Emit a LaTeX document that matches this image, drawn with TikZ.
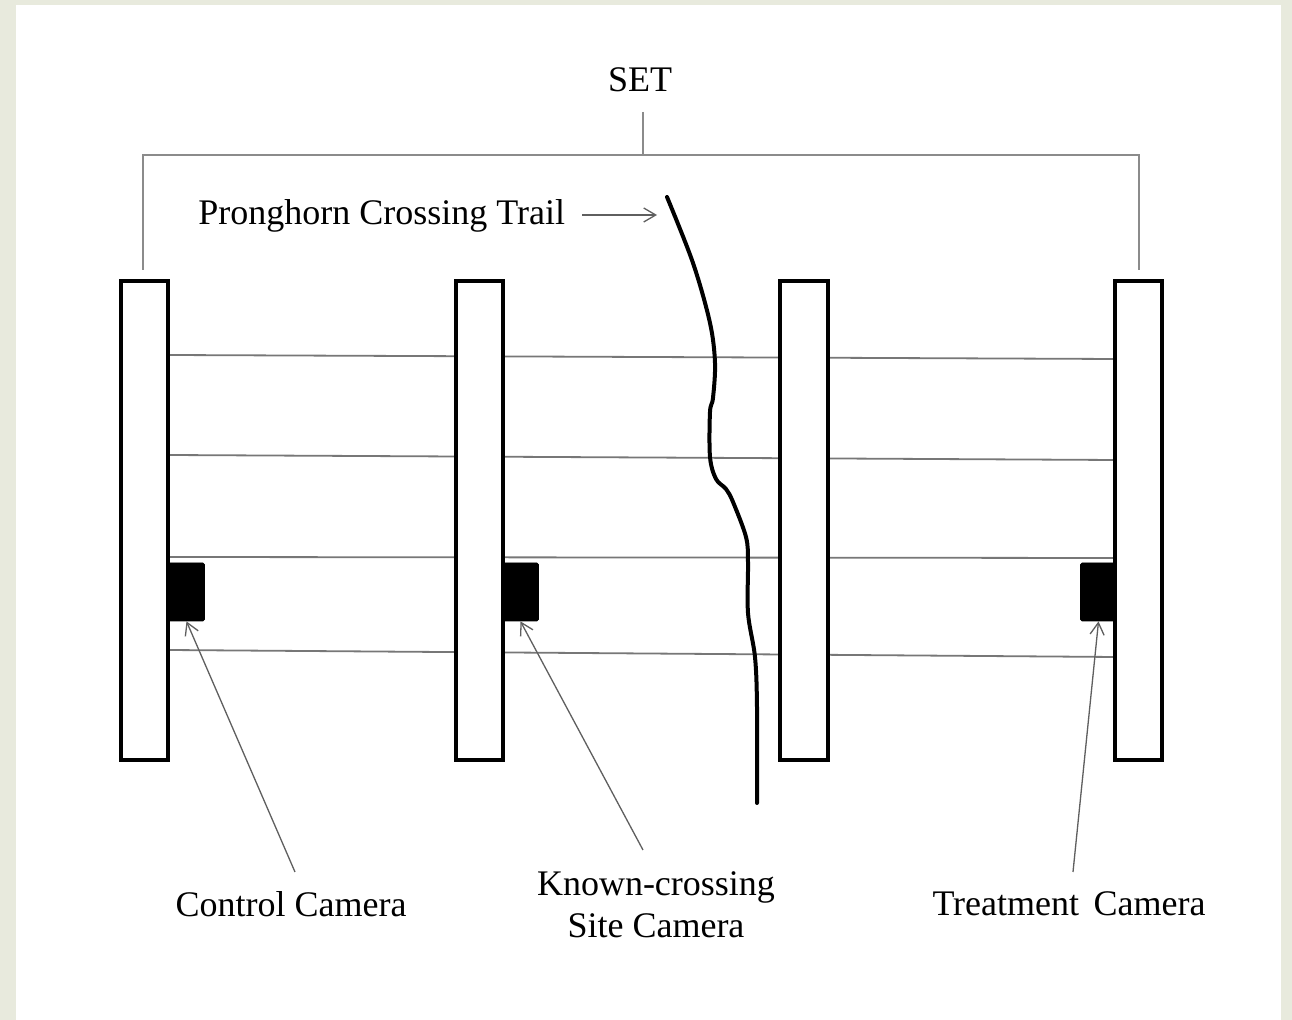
\documentclass[tikz,border=0pt]{standalone}
\usepackage{fontspec}
\setmainfont{Liberation Serif}
\usetikzlibrary{arrows.meta}
\definecolor{frame}{HTML}{E8EADD}
\definecolor{wire}{HTML}{777777}
\begin{document}
\begin{tikzpicture}[x=0.5pt,y=-0.5pt,
  lbl/.style={font=\fontsize{18}{21}\selectfont, inner sep=0pt, align=center},
  postbox/.style={draw=black, line width=1.6pt, fill=white},
  wireline/.style={draw=wire, line width=0.9pt},
  brack/.style={draw=wire!85, line width=0.9pt},
  cam/.style={fill=black, draw=black, rounded corners=0.8pt, minimum width=18pt, minimum height=29pt, inner sep=0pt},
  pointer/.style={draw=wire!80!black, line width=0.65pt, -{Straight Barb[length=6pt,width=7pt]}},
  trail/.style={draw=black, line width=2pt, line cap=round, line join=round}]
% background and margins
\fill[frame] (0,0) rectangle (1292,1020);
\fill[white] (16,5) rectangle (1281,1020);
\useasboundingbox (0,0) rectangle (1292,1020);

% bracket with SET label
\node[lbl] (set) at (640,80) {SET};
\draw[brack] (643,112) -- (643,155);
\draw[brack] (143,270) -- (143,155) -- (1139,155) -- (1139,270);

% wires (between posts)
\foreach \ya/\yb in {355/359, 455/460, 557/558, 650/657}{
  \draw[wireline] (168,\ya) -- (456,{\ya+(\yb-\ya)*0.30});
  \draw[wireline] (503,{\ya+(\yb-\ya)*0.35}) -- (780,{\ya+(\yb-\ya)*0.64});
  \draw[wireline] (828,{\ya+(\yb-\ya)*0.69}) -- (1115,\yb);
}

% posts
\draw[postbox] (121,281) rectangle (168,760);
\draw[postbox] (456,281) rectangle (503,760);
\draw[postbox] (780,281) rectangle (828,760);
\draw[postbox] (1115,281) rectangle (1162,760);

% cameras
\node[cam] (cam1) at (186.5,592) {};
\node[cam] (cam2) at (520.5,592) {};
\node[cam] (cam3) at (1098.5,592) {};

% pronghorn trail
\draw[trail] plot[smooth, tension=0.55] coordinates {
  (667,197) (693,263) (710,323) (715,363) (713,398) (710,412)
  (710,457) (716,479) (726,489) (733,502) (746,537) (748,562)
  (748,613) (755,657) (757,707) (757,803)};

% trail label
\node[lbl, anchor=west] (trl) at (198,216) {Pronghorn Crossing Trail};
\coordinate (ta) at (582,215);
\coordinate (tb) at (657,215);
\draw[pointer] (ta) -- (tb);

% camera labels
\node[lbl] (ctrl) at (291,904) {Control Camera};
\node[lbl] (known) at (656,905) {Known-crossing\\Site Camera};
\node[lbl] (treat) at (1069,904) {Treatment\hspace{0.15em} Camera};

\coordinate (c1) at (295,872);
\coordinate (c2) at (643,850);
\coordinate (c3) at (1073,872);
\draw[pointer] (c1) -- (cam1.south);
\draw[pointer] (c2) -- (cam2.south);
\draw[pointer] (c3) -- (cam3.south);
\end{tikzpicture}
\end{document}
